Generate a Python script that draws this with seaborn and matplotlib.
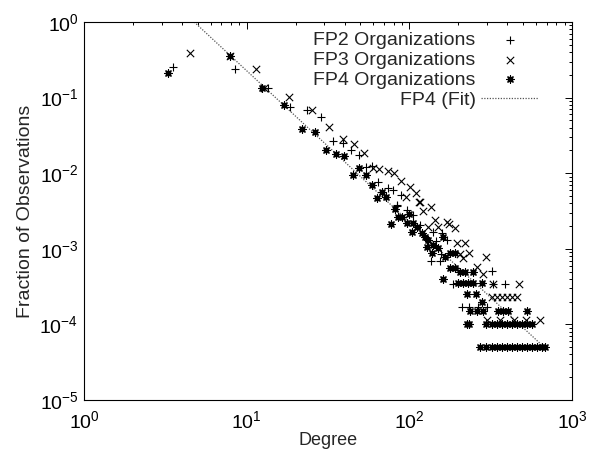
import matplotlib
matplotlib.use("Agg")
import matplotlib.pyplot as plt
import seaborn as sns
from matplotlib.ticker import LogLocator, NullFormatter, FixedLocator

# ---------------- data ----------------
fp2_deg = [3.5, 8.5, 13.6, 18.5, 23.6, 28.6, 33.8, 39.2, 43.8, 49.2,
           53.9, 59.2, 64.4, 74.3, 79.7, 84.3, 88.8, 83.5, 96.2, 105.2,
           116, 140.3, 145.7, 158, 169.4, 135.2, 154.2, 155.7, 320.6, 186,
           328, 387, 209.7, 234, 263, 298.5]
fp2_frac = [0.256, 0.237, 0.133, 0.0758, 0.0686, 0.0549, 0.0269, 0.0248, 0.0203, 0.0174,
            0.0122, 0.0126, 0.0077, 0.0063, 0.0060, 0.0038, 0.00515, 0.00368, 0.00326, 0.0028,
            0.00206, 0.00168, 0.00127, 0.0016, 0.0013, 0.000684, 0.000684, 0.000855, 0.000513, 0.000342,
            0.000342, 0.000342, 0.000171, 0.000171, 0.000171, 0.000171]

fp3_deg = [4.48, 7.9, 11.4, 12.7, 18.3, 25.1, 32.1, 39.2, 45.8, 52.8,
           60, 65.3, 73.6, 80.7, 88.8, 100.9, 109.9, 115.2, 95.3, 116,
           135.8, 121.7, 143.7, 169.5, 175, 190.5, 130.7, 150.6, 196.9, 219.8,
           204.7, 233.4, 295.7, 214.4, 259.2, 282, 328, 474, 320, 345,
           372, 400, 428, 456, 300, 360, 440, 520, 635]
fp3_frac = [0.385, 0.36, 0.237, 0.133, 0.103, 0.0686, 0.0412, 0.0281, 0.0243, 0.0183,
            0.0116, 0.0114, 0.0107, 0.00997, 0.00796, 0.00663, 0.00552, 0.0042, 0.00489, 0.0041,
            0.0036, 0.00316, 0.0024, 0.00228, 0.00213, 0.00187, 0.00196, 0.00196, 0.0012, 0.0012,
            0.00085, 0.00089, 0.00079, 0.00075, 0.00058, 0.00046, 0.000342, 0.000342, 0.000228, 0.000228,
            0.000228, 0.000228, 0.000228, 0.000228, 0.000114, 0.000114, 0.000114, 0.000114, 0.000114]

fp4_deg = [3.3, 7.9, 12.5, 16.9, 21.8, 26.3, 30.7, 35.4, 39.8, 44.8,
           49.2, 54.1, 58.6, 67.6, 63.0, 71.8, 81.5, 85.5, 76.7, 89.7,
           99.8, 96.2, 105.7, 110.9, 103.3, 119, 124.8, 161.5, 130.7, 140.3,
           150.6, 127.7, 137.1, 177.8, 190.6, 165.5, 177.8, 190.6, 204.7, 219.8,
           247.3, 160.2, 199, 213.6, 229, 245.6, 278, 225, 256.6, 278,
           235.7, 260, 284.5, 350.5, 375, 404, 526, 225, 233.4, 298,
           320, 345, 372, 400, 430, 460, 495, 530, 565, 272,
           295, 320, 345, 372, 400, 430, 460, 495, 530, 570,
           610, 650, 680]
fp4_frac = [0.213, 0.358, 0.133, 0.080, 0.0384, 0.0347, 0.0203, 0.0179, 0.0169, 0.0095,
            0.0116, 0.0095, 0.0070, 0.0057, 0.0047, 0.0049, 0.0034, 0.0026, 0.0021, 0.00266,
            0.00289, 0.00221, 0.00217, 0.00196, 0.00168, 0.0016, 0.00145, 0.00145, 0.00131, 0.00112,
            0.00102, 0.00107, 0.00087, 0.00087, 0.00087, 0.00077, 0.00055, 0.00055, 0.0005, 0.0005,
            0.0005, 0.0004, 0.00035, 0.00035, 0.00035, 0.00035, 0.00035, 0.00025, 0.00025, 0.0002,
            0.00015, 0.00015, 0.00015, 0.00015, 0.00015, 0.00015, 0.00015, 0.0001, 0.0001, 0.0001,
            0.0001, 0.0001, 0.0001, 0.0001, 0.0001, 0.0001, 0.0001, 0.0001, 0.0001, 0.00005,
            0.00005, 0.00005, 0.00005, 0.00005, 0.00005, 0.00005, 0.00005, 0.00005, 0.00005, 0.00005,
            0.00005, 0.00005, 0.00005]

fit_deg = [4.76, 665]
fit_frac = [1.0, 5.13e-5]

labels = ["FP2 Organizations", "FP3 Organizations", "FP4 Organizations", "FP4 (Fit)"]
x_ticks = [1, 10, 100, 1000]
x_tick_labels = ["$10^{0}$", "$10^{1}$", "$10^{2}$", "$10^{3}$"]
y_ticks = [1e-5, 1e-4, 1e-3, 1e-2, 1e-1, 1]
y_tick_labels = ["$10^{-5}$", "$10^{-4}$", "$10^{-3}$", "$10^{-2}$", "$10^{-1}$", "$10^{0}$"]

# ---------------- style ----------------
sns.set_theme(style="white")
plt.rcParams['font.family'] = ['Liberation Sans', 'DejaVu Sans']
plt.rcParams['mathtext.default'] = 'regular'
plt.rcParams['mathtext.fontset'] = 'custom'
plt.rcParams['mathtext.rm'] = 'Liberation Sans'

W, H = 598, 455
fig = plt.figure(figsize=(W / 100, H / 100), dpi=100)
ax = fig.add_axes([84 / W, 55 / H, 488 / W, 378 / H])

sns.lineplot(x=fit_deg, y=fit_frac, ax=ax, color="#555555", linewidth=0.9,
             linestyle=(0, (1, 1.2)), label=labels[3], zorder=1)
sns.scatterplot(x=fp2_deg, y=fp2_frac, ax=ax, marker="+", s=40, color="black",
                linewidth=0.8, label=labels[0], zorder=3)
sns.scatterplot(x=fp3_deg, y=fp3_frac, ax=ax, marker="x", s=28, color="black",
                linewidth=0.8, label=labels[1], zorder=3)
sns.scatterplot(x=fp4_deg, y=fp4_frac, ax=ax, marker=(8, 2, 0), s=26, color="black",
                linewidth=0.9, label=labels[2], zorder=3)

ax.set_xscale("log")
ax.set_yscale("log")
ax.set_xlim(1, 1000)
ax.set_ylim(1e-5, 1)

ax.xaxis.set_major_locator(FixedLocator(x_ticks))
ax.set_xticklabels(x_tick_labels)
ax.yaxis.set_major_locator(FixedLocator(y_ticks))
ax.set_yticklabels(y_tick_labels)
ax.xaxis.set_minor_locator(LogLocator(base=10, subs=range(2, 10)))
ax.yaxis.set_minor_locator(LogLocator(base=10, subs=range(2, 10)))
ax.xaxis.set_minor_formatter(NullFormatter())
ax.yaxis.set_minor_formatter(NullFormatter())

ax.tick_params(which="both", direction="in", top=True, right=True, colors="black",
               labelsize=14, width=0.7)
ax.tick_params(which="major", length=5)
ax.tick_params(axis="y", which="major", pad=4)
ax.tick_params(axis="x", which="major", pad=7)
ax.tick_params(which="minor", length=2.5)
for sp in ax.spines.values():
    sp.set_color("black")
    sp.set_linewidth(0.8)

ax.set_xlabel("Degree", fontsize=13, labelpad=0)
ax.set_ylabel("Fraction of Observations", fontsize=14, labelpad=4)

h, l = ax.get_legend_handles_labels()
order = [l.index(s) for s in labels]
ax.legend([h[i] for i in order], [l[i] for i in order], loc="upper right",
          bbox_to_anchor=(0.93, 0.976), markerfirst=False, frameon=False,
          fontsize=14, handlelength=2.9, handletextpad=0.3, borderpad=0,
          borderaxespad=0, labelspacing=0.12)

fig.savefig("out.png", dpi=100)
